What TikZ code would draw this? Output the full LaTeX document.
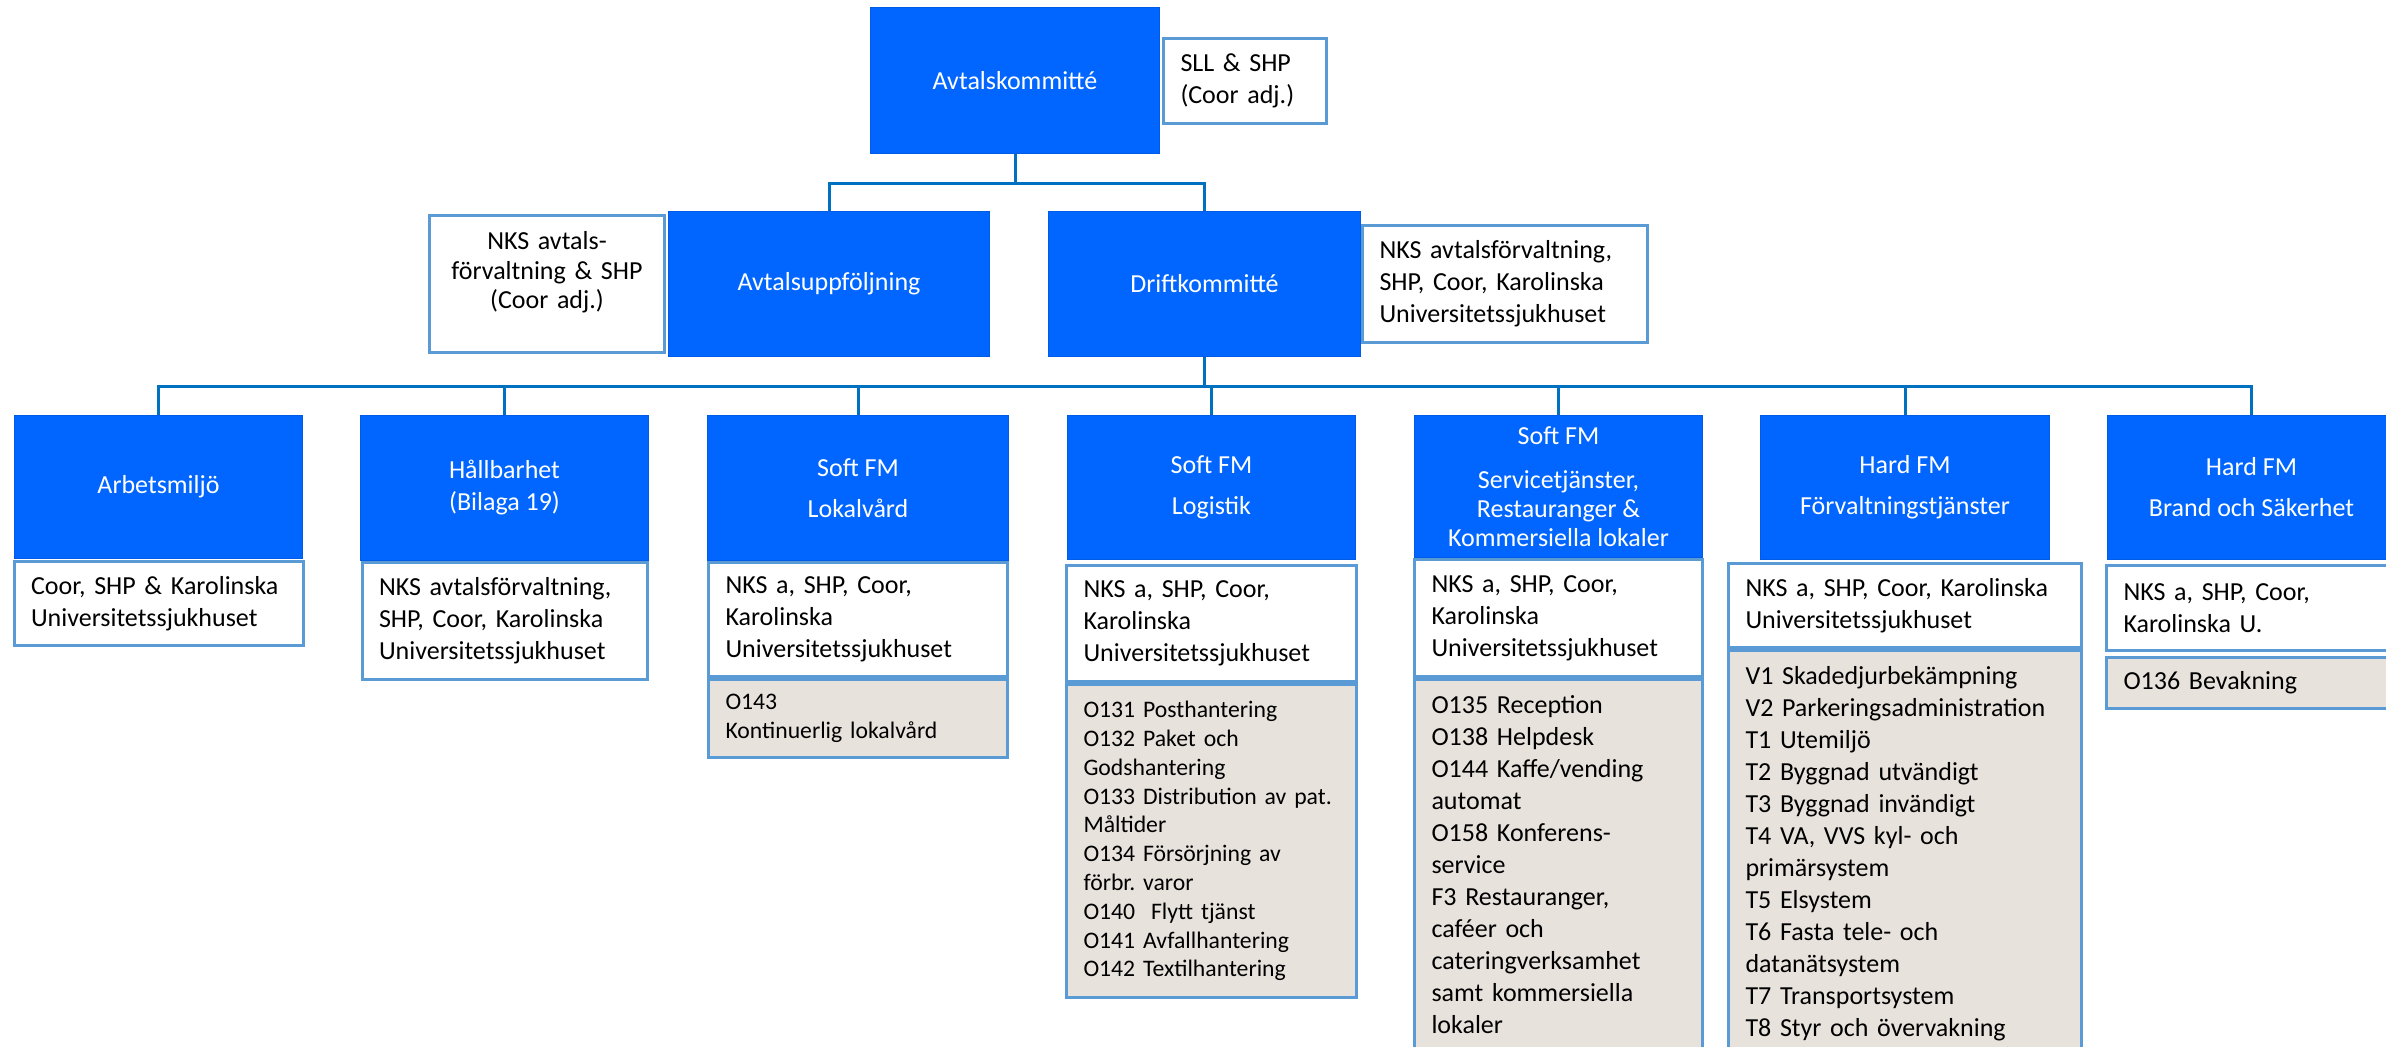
\documentclass[tikz,border=0pt]{standalone}
\usepackage{fontspec}
\setmainfont{Carlito}
\frenchspacing
\usetikzlibrary{positioning}
\definecolor{orgblue}{RGB}{0,102,255}
\definecolor{orgedge}{RGB}{0,92,230}
\definecolor{linkblue}{RGB}{0,112,192}
\definecolor{memberline}{RGB}{91,155,213}
\definecolor{taskgray}{RGB}{231,226,220}

\begin{document}
\begin{tikzpicture}[x=1pt,y=-1pt,
    every node/.style={font=\fontsize{26}{32}\selectfont},
    unit/.style={fill=orgblue,draw=orgedge,line width=1pt,text=white,align=center,inner sep=0pt,anchor=north west},
    member/.style={fill=white,draw=memberline,line width=3pt,align=left,inner xsep=17pt,inner ysep=6pt},
    task/.style={member,fill=taskgray},
    smalltext/.style={font=\fontsize{23.7}{28.8}\selectfont},
    link/.style={draw=linkblue,line width=3pt}]
    \useasboundingbox (0,0) rectangle (2386,1047);
    \clip (0,0) rectangle (2386,1047);
    \node[unit,minimum width=289pt,minimum height=146pt] (avtal) at (870,7) {Avtalskommitté};
    \node[member,right=2pt of avtal,text width=129pt,minimum height=85pt] (avtalmem) {SLL \& SHP\\(Coor adj.)};
    \node[unit,minimum width=321pt,minimum height=145pt] (uppf) at (668,211) {Avtalsuppföljning};
    \node[unit,minimum width=312pt,minimum height=145pt] (drift) at (1048,211) {Driftkommitté};
    \node[member,left=2pt of uppf,align=center,text width=201pt,minimum height=137pt] (uppfmem) {NKS avtals-\\[-2.5pt]förvaltning \& SHP\\[-2.5pt](Coor adj.)\\[-4pt]\mbox{}};
    \node[member,right=0pt of drift,text width=251pt,minimum height=117pt] (driftmem) {NKS avtalsförvaltning,\\SHP, Coor, Karolinska\\Universitetssjukhuset};

    \node[unit,minimum width=288pt,minimum height=143pt] (arbets) at (14,415) {Arbetsmiljö};
    \node[unit,minimum width=288pt,minimum height=145pt] (hallbar) at (360,415) {Hållbarhet\\(Bilaga 19)};
    \node[unit,minimum width=301pt,minimum height=145pt] (lokal) at (707,415) {Soft FM\\[9pt]Lokalvård};
    \node[unit,minimum width=288pt,minimum height=144pt] (logistik) at (1067,415) {Soft FM\\[9pt]Logistik};
    \node[unit,minimum width=288pt,minimum height=142pt] (service) at (1414,415) {Soft FM\\[12pt]Servicetjänster,\\[-3pt]Restauranger \&\\[-3pt]Kommersiella lokaler};
    \node[unit,minimum width=289pt,minimum height=144pt] (forvalt) at (1760,415) {Hard FM\\[9pt]Förvaltningstjänster};
    \node[unit,minimum width=288pt,minimum height=144pt] (brand) at (2107,415) {Hard FM\\[9pt]Brand och Säkerhet};

    \node[member,below=1pt of arbets,text width=255pt,minimum height=84pt] (arbetsmem) {Coor, SHP \& Karolinska\\Universitetssjukhuset};
    \node[member,below=0pt of hallbar,text width=251pt,minimum height=117pt] (hallbarmem) {NKS avtalsförvaltning,\\SHP, Coor, Karolinska\\Universitetssjukhuset};
    \node[member,below=0pt of lokal,text width=265pt,minimum height=114pt] (lokalmem) {NKS a, SHP, Coor,\\Karolinska\\Universitetssjukhuset};
    \node[task,smalltext,below=0pt of lokalmem,text width=265pt,minimum height=78pt] (lokaltask) {O143\\Kontinuerlig lokalvård};
    \node[member,below=4pt of logistik,text width=256pt,minimum height=116pt] (logistikmem) {NKS a, SHP, Coor,\\Karolinska\\Universitetssjukhuset};
    \node[task,smalltext,below=0pt of logistikmem,text width=256pt,minimum height=313pt] (logistiktask) {O131 Posthantering\\O132 Paket och\\Godshantering\\O133 Distribution av pat.\\Måltider\\O134 Försörjning av\\förbr. varor\\O140\ \ Flytt tjänst\\O141 Avfallhantering\\O142 Textilhantering};
    \node[member,below=0pt of service,text width=254pt,minimum height=117pt] (servicemem) {NKS a, SHP, Coor,\\Karolinska\\Universitetssjukhuset};
    \node[task,below=0pt of servicemem,text width=254pt,inner ysep=16pt] (servicetask) {O135 Reception\\O138 Helpdesk\\O144 Kaffe/vending\\automat\\O158 Konferens-\\service\\F3 Restauranger,\\caféer och\\cateringverksamhet\\samt kommersiella\\lokaler};
    \node[member,below=2pt of forvalt,text width=319pt,minimum height=84pt] (forvaltmem) {NKS a, SHP, Coor, Karolinska\\Universitetssjukhuset};
    \node[task,below=0pt of forvaltmem,text width=319pt,inner ysep=16pt] (forvalttask) {V1 Skadedjurbekämpning\\V2 Parkeringsadministration\\T1 Utemiljö\\T2 Byggnad utvändigt\\T3 Byggnad invändigt\\T4 VA, VVS kyl- och\\primärsystem\\T5 Elsystem\\T6 Fasta tele- och\\datanätsystem\\T7 Transportsystem\\T8 Styr och övervakning};
    \node[member,below=4pt of brand,text width=256pt,minimum height=85pt] (brandmem) {NKS a, SHP, Coor,\\Karolinska U.};
    \node[task,below=4pt of brandmem,text width=256pt,minimum height=51pt] (brandtask) {O136 Bevakning};

    \draw[link] (avtal.south) -- ++(0,29) -| (uppf.north);
    \draw[link] (avtal.south) -- ++(0,29) -| (drift.north);
    \foreach \n in {arbets,hallbar,lokal,logistik,service,forvalt,brand}
      \draw[link] (drift.south) -- ++(0,29) -| (\n.north);
  \end{tikzpicture}
\end{document}
